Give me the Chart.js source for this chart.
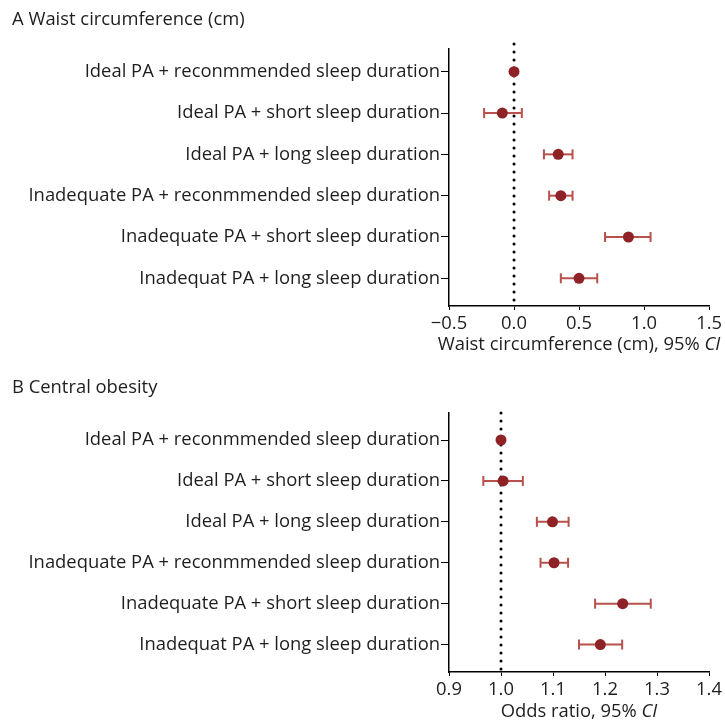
<!DOCTYPE html>
<html>
<head>
<meta charset="utf-8">
<script src="https://cdn.jsdelivr.net/npm/chart.js@4.4.1/dist/chart.umd.min.js"></script>
<style>
  html, body { margin: 0; padding: 0; background: #ffffff; }
  #wrap { position: relative; width: 725px; height: 722px; overflow: hidden; }
  canvas { position: absolute; left: 0; }
</style>
</head>
<body>
<div id="wrap">
  <canvas id="chartA" width="725" height="360" style="top:0px"></canvas>
  <canvas id="chartB" width="725" height="362" style="top:360px"></canvas>
</div>
<script>
// ---------------- data ----------------
const categories = [
  "Ideal PA + reconmmended sleep duration",
  "Ideal PA + short sleep duration",
  "Ideal PA + long sleep duration",
  "Inadequate PA + reconmmended sleep duration",
  "Inadequate PA + short sleep duration",
  "Inadequat PA + long sleep duration"
];

// Panel A: waist circumference (cm), beta and 95% CI
const waistEst = [0.00, -0.09, 0.34, 0.36, 0.88, 0.50];
const waistLow = [0.00, -0.23, 0.23, 0.27, 0.70, 0.36];
const waistHigh = [0.00, 0.06, 0.45, 0.45, 1.05, 0.64];
const waistTicks = [-0.5, 0.0, 0.5, 1.0, 1.5];
const waistRef = 0.0;

// Panel B: central obesity, odds ratio and 95% CI
const orEst = [1.000, 1.004, 1.099, 1.102, 1.234, 1.191];
const orLow = [1.000, 0.966, 1.069, 1.076, 1.181, 1.150];
const orHigh = [1.000, 1.042, 1.130, 1.129, 1.288, 1.233];
const orTicks = [0.9, 1.0, 1.1, 1.2, 1.3, 1.4];
const orRef = 1.0;

const panelTitles = ["A Waist circumference (cm)", "B Central obesity"];
const axisTitles = [["Waist circumference (cm), 95% ", "CI"], ["Odds ratio, 95% ", "CI"]];

// ---------------- styling ----------------
const FONT = "'Open Sans', 'Noto Sans', sans-serif";
const FS = 18.4;
const TEXT = "#1e1e1e";
const MARKER = "#8e2226";
const ERR = "#b8504c";

function fmt(v) {
  const s = Math.abs(v).toFixed(1);
  return v < 0 ? "\u2212" + s : s;
}

function makeChart(id, cfg) {
  const datasets = [];
  // dotted reference line
  datasets.push({
    type: "scatter",
    showLine: true,
    data: [{ x: cfg.ref, y: cfg.refTop }, { x: cfg.ref, y: cfg.yMax }],
    borderColor: "#000000",
    borderWidth: 3,
    borderDash: [0, 8],
    borderCapStyle: "round",
    pointRadius: 0,
    clip: false,
    order: 3
  });
  // CI bars
  cfg.est.forEach((e, i) => {
    if (cfg.low[i] === cfg.high[i]) return;
    datasets.push({
      type: "scatter",
      showLine: true,
      data: [{ x: cfg.low[i], y: i + 1 }, { x: cfg.high[i], y: i + 1 }],
      borderColor: ERR,
      borderWidth: 2,
      pointStyle: "line",
      rotation: 90,
      pointRadius: 5,
      pointBorderColor: ERR,
      pointBorderWidth: 2,
      order: 2
    });
  });
  // point estimates
  datasets.push({
    type: "scatter",
    data: cfg.est.map((e, i) => ({ x: e, y: i + 1 })),
    backgroundColor: MARKER,
    borderWidth: 0,
    pointRadius: 5.5,
    order: 1
  });

  const titlePlugin = {
    id: "texts" + id,
    afterDraw(chart) {
      const ctx = chart.ctx;
      const ca = chart.chartArea;
      ctx.save();
      ctx.fillStyle = TEXT;
      ctx.textBaseline = "middle";
      // panel title
      ctx.font = FS + "px " + FONT;
      ctx.textAlign = "left";
      ctx.fillText(cfg.panelTitle, 12, cfg.titleY);
      // axis title with italic CI
      const normal = FS + "px " + FONT;
      const ital = "italic " + FS + "px " + FONT;
      ctx.font = normal;
      const w1 = ctx.measureText(cfg.axisTitle[0]).width;
      ctx.font = ital;
      const w2 = ctx.measureText(cfg.axisTitle[1]).width;
      const cx = (ca.left + ca.right) / 2;
      let x0 = cx - (w1 + w2) / 2;
      ctx.font = normal;
      ctx.fillText(cfg.axisTitle[0], x0, cfg.axisTitleY);
      ctx.font = ital;
      ctx.fillText(cfg.axisTitle[1], x0 + w1, cfg.axisTitleY);
      ctx.restore();
    }
  };

  return new Chart(document.getElementById(id), {
    type: "scatter",
    data: { datasets },
    options: {
      responsive: false,
      animation: false,
      events: [],
      layout: { padding: { top: cfg.padTop, right: cfg.padRight, left: 0, bottom: 0 } },
      plugins: { legend: { display: false }, tooltip: { enabled: false }, title: { display: false } },
      scales: {
        x: {
          type: "linear",
          min: cfg.ticks[0],
          max: cfg.ticks[cfg.ticks.length - 1],
          afterBuildTicks: (s) => { s.ticks = cfg.ticks.map(v => ({ value: v })); },
          afterFit: (s) => { s.height = cfg.xHeight; },
          ticks: {
            callback: (v) => fmt(v),
            color: TEXT,
            font: { family: FONT, size: FS },
            padding: 3,
            maxRotation: 0,
            autoSkip: false
          },
          grid: { drawOnChartArea: false, drawTicks: true, tickLength: 4, color: "#000000", lineWidth: 1 },
          border: { display: true, color: "#000000", width: 1.5 }
        },
        y: {
          type: "linear",
          reverse: true,
          min: cfg.yMin,
          max: cfg.yMax,
          afterBuildTicks: (s) => { s.ticks = categories.map((c, i) => ({ value: i + 1 })); },
          afterFit: (s) => { s.width = cfg.yWidth; },
          ticks: {
            callback: (v) => categories[v - 1],
            color: TEXT,
            font: { family: FONT, size: FS },
            padding: 1,
            autoSkip: false
          },
          grid: { drawOnChartArea: false, drawTicks: true, tickLength: 8, color: "#000000", lineWidth: 1 },
          border: { display: true, color: "#000000", width: 1.5 }
        }
      }
    },
    plugins: [titlePlugin]
  });
}

makeChart("chartA", {
  est: waistEst, low: waistLow, high: waistHigh, ticks: waistTicks, ref: waistRef,
  yMin: 0.45, yMax: 6.67, refTop: 0.33,
  padTop: 49, padRight: 13, xHeight: 54, yWidth: 449,
  panelTitle: panelTitles[0], titleY: 20,
  axisTitle: axisTitles[0], axisTitleY: 345
});

makeChart("chartB", {
  est: orEst, low: orLow, high: orHigh, ticks: orTicks, ref: orRef,
  yMin: 0.34, yMax: 6.67, refTop: 0.34,
  padTop: 53, padRight: 16, xHeight: 50, yWidth: 449,
  panelTitle: panelTitles[1], titleY: 28,
  axisTitle: axisTitles[1], axisTitleY: 352
});
</script>
</body>
</html>
